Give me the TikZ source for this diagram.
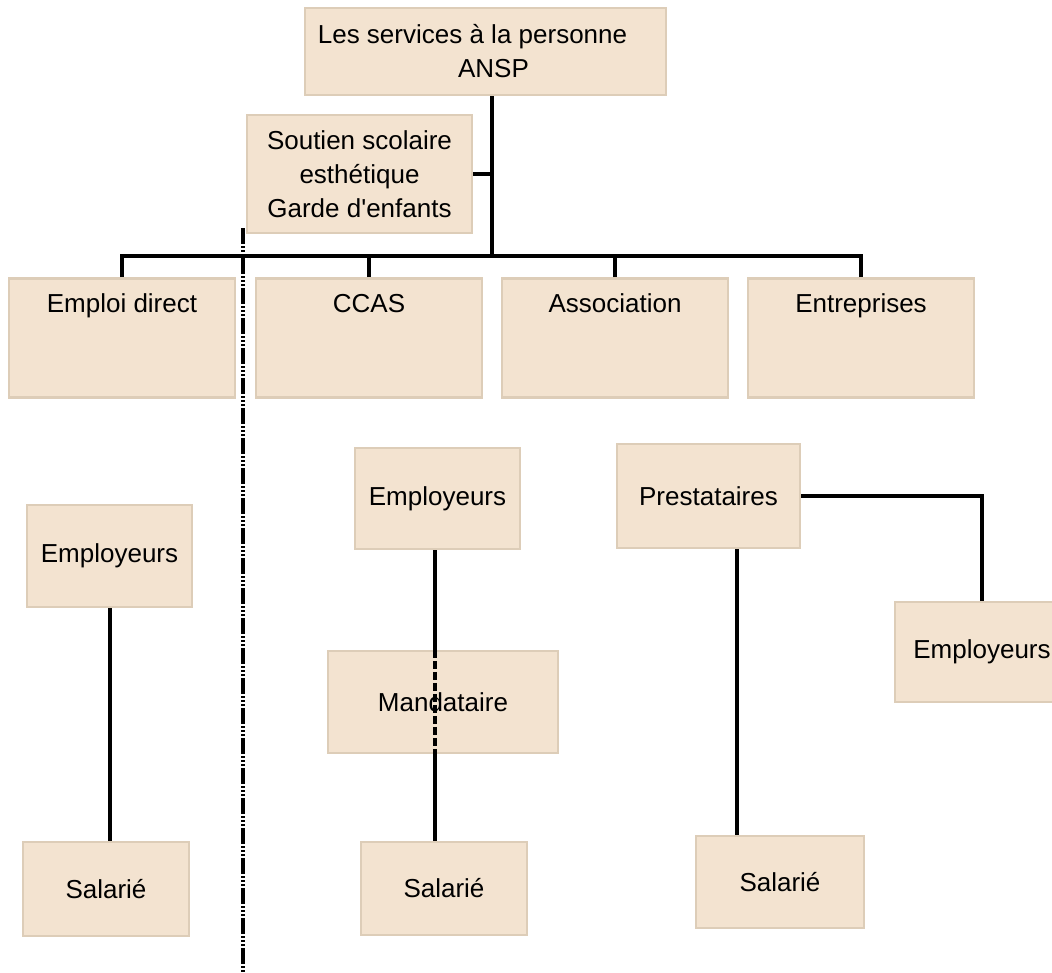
\documentclass[tikz,border=0pt]{standalone}
\usepackage{fontspec}
\setmainfont{Liberation Sans}
\definecolor{boxfill}{HTML}{F3E3D0}
\definecolor{boxline}{HTML}{DDCDB8}

\begin{document}
\begin{tikzpicture}[x=1pt,y=-1pt,line width=4pt]
    \tikzstyle{card}=[rectangle,draw=boxline,line width=2.5pt,fill=boxfill,inner sep=0pt,align=center,font=\fontsize{26}{34}\selectfont]
    \tikzstyle{branch}=[card,minimum width=226pt,text height=34pt,text depth=85pt,anchor=north]
    \useasboundingbox (0,0) rectangle (1052,972);

    \node[card,minimum width=361pt,minimum height=87pt] (ansp) at (485.5,51.5) {Les services à la personne\hspace*{26pt}\\\hspace*{16pt}ANSP};
    \node[card,minimum width=225pt,minimum height=118pt] (soutien) at (359.5,174) {Soutien scolaire\\esthétique\\Garde d\textquotesingle enfants};

    \foreach \name/\x/\txt in {emploi/122/Emploi direct, ccas/369/CCAS, asso/615/Association, entr/861/Entreprises}
        \node[branch] (\name) at (\x,277) {\txt};

    \foreach \name/\x/\y/\w/\h/\txt in {empG/109.5/556/165/102/Employeurs, salG/106/889/166/94/Salarié,
            empM/437.5/498.5/165/101/Employeurs, mand/443/702/230/102/Mandataire, salM/444/888.5/166/93/Salarié,
            prest/708.5/496/183/104/Prestataires, empR/982/652/174/100/Employeurs, salR/780/882/168/92/Salarié}
        \node[card,minimum width=\w pt,minimum height=\h pt] (\name) at (\x,\y) {\txt};

    \coordinate (bar) at (492,256);
    \draw (ansp.south -| bar) -- (bar);
    \draw (soutien.east) -- (soutien.east -| bar);
    \foreach \name in {emploi,ccas,asso,entr}
        \draw (\name.north) |- (bar);

    \draw (empG.south) -- (empG.south |- salG.north);
    \draw ([xshift=-3pt]empM.south) -- ([xshift=-3pt]empM.south |- mand.north);
    \draw[dash pattern=on 8pt off 3pt] ([xshift=-3pt]empM.south |- mand.north) -- ([xshift=-3pt]empM.south |- mand.south);
    \draw ([xshift=-3pt]empM.south |- mand.south) -- ([xshift=-3pt]empM.south |- salM.north);
    \draw ([xshift=28pt]prest.south) -- ([xshift=28pt]prest.south |- salR.north);
    \draw (prest.east) -| (empR.north);

    % separation directe / structures
    \coordinate (sepTop) at (243,228);
    \coordinate (sepBot) at (243,972);
    \draw[line width=3.5pt,dash pattern=on 16pt off 2pt on 2pt off 2pt on 2pt off 2pt on 2pt off 2pt] (sepTop) -- (sepBot);
\end{tikzpicture}
\end{document}
